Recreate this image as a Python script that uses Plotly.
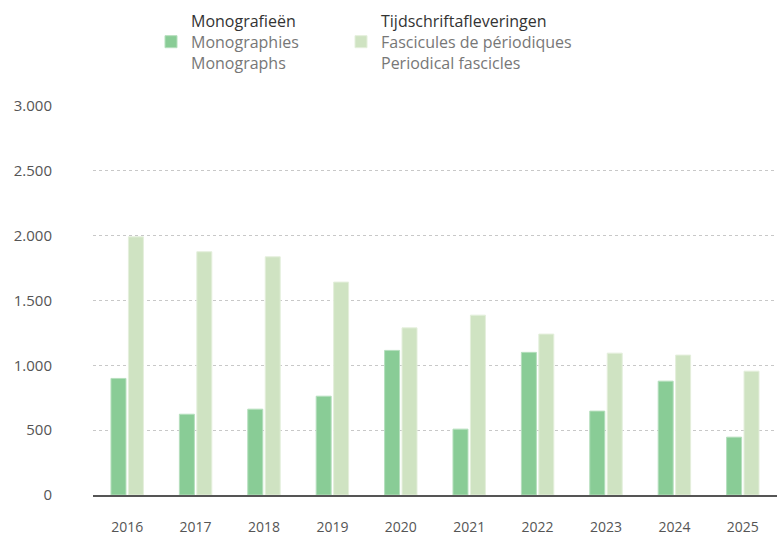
import plotly.graph_objects as go

years = ["2016", "2017", "2018", "2019", "2020", "2021", "2022", "2023", "2024", "2025"]
monographs = [899, 623, 662, 762, 1115, 508, 1100, 647, 878, 446]
periodicals = [1991, 1876, 1837, 1642, 1289, 1387, 1241, 1094, 1079, 955]

mono_name = ("<span style='color:#333333'>Monografieën</span><br>"
             "Monographies<br>Monographs")
peri_name = ("<span style='color:#333333'>Tijdschriftafleveringen</span><br>"
             "Fascicules de périodiques<br>Periodical fascicles")

FONT = "Open Sans"

fig = go.Figure()
fig.add_trace(go.Bar(
    x=years, y=monographs, name=mono_name, legend="legend",
    marker=dict(color="#89CC96", line=dict(color="#B5DFBD", width=1)),
))
fig.add_trace(go.Bar(
    x=years, y=periodicals, name=peri_name, legend="legend2",
    marker=dict(color="#CFE3C2", line=dict(color="#E4EFDC", width=1)),
))


def legend_box(left_px):
    return dict(
        orientation="h",
        xref="container", yref="container",
        x=left_px / 777, y=1 - 4 / 535, xanchor="left", yanchor="top",
        font=dict(family=FONT, size=16, color="#777777"),
        bgcolor="rgba(0,0,0,0)",
    )


fig.update_layout(
    width=777, height=535,
    margin=dict(l=93, r=0, t=106, b=40),
    paper_bgcolor="white", plot_bgcolor="white",
    separators=",.",
    barmode="group", bargap=0.49, bargroupgap=0.14,
    font=dict(family=FONT, size=14, color="#555555"),
    showlegend=True,
    legend=legend_box(151),
    legend2=legend_box(341),
    xaxis=dict(
        showgrid=False, showline=True, linecolor="#555555", linewidth=2,
        ticks="", ticklabelstandoff=18,
        tickfont=dict(family=FONT, size=14, color="#555555"),
    ),
    yaxis=dict(
        range=[0, 3000], tickvals=[0, 500, 1000, 1500, 2000, 2500, 3000],
        tickformat=",d",
        showgrid=True, gridcolor="#C8C8C8", griddash="dot", gridwidth=1,
        zeroline=False, showline=False, ticks="",
        ticklabelstandoff=40,
        tickfont=dict(family=FONT, size=15, color="#555555"),
    ),
)

fig.write_html("out.html")
